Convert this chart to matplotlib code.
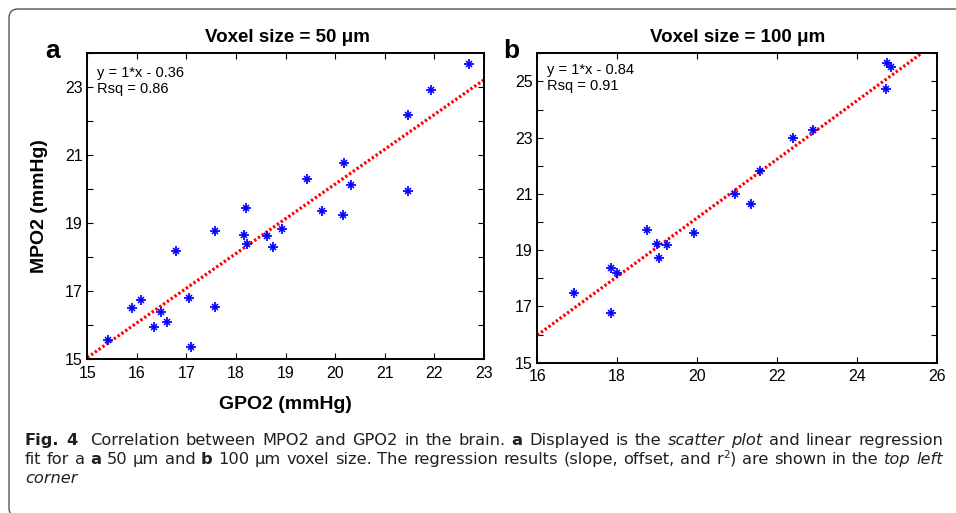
import matplotlib
matplotlib.use("Agg")
import matplotlib.pyplot as plt
from matplotlib.patches import FancyBboxPatch
from matplotlib.transforms import IdentityTransform

plt.rcParams['font.family'] = ['Liberation Sans', 'DejaVu Sans']

# ---------------- data ----------------
# panel a: 50 um voxel size
gpo2_a = [15.42, 15.91, 16.08, 16.34, 16.49, 16.61, 16.78, 17.06, 17.09, 17.58,
          17.58, 18.17, 18.21, 18.23, 18.62, 18.74, 18.93, 19.44, 19.73, 20.15,
          20.18, 20.31, 21.46, 21.47, 21.94, 22.70]
mpo2_a = [15.57, 16.50, 16.74, 15.96, 16.38, 16.09, 18.19, 16.81, 15.37, 18.78,
          16.53, 18.67, 19.46, 18.40, 18.63, 18.29, 18.84, 20.29, 19.36, 19.25,
          20.77, 20.14, 22.20, 19.95, 22.91, 23.69]
fit_x_a = [15.0, 23.0]
fit_y_a = [15.05, 23.22]
eq_a = ["y = 1*x - 0.36", "Rsq = 0.86"]

# panel b: 100 um voxel size
gpo2_b = [16.93, 17.84, 17.84, 18.00, 18.74, 18.99, 19.05, 19.25, 19.93, 20.96,
          21.35, 21.58, 22.39, 22.90, 24.74, 24.75, 24.86]
mpo2_b = [17.48, 16.77, 18.37, 18.20, 19.72, 19.21, 18.74, 19.20, 19.61, 20.98,
          20.65, 21.81, 22.98, 23.27, 24.73, 25.65, 25.51]
fit_x_b = [16.0, 25.62]
fit_y_b = [15.98, 26.0]
eq_b = ["y = 1*x - 0.84", "Rsq = 0.91"]

xticks_a = list(range(15, 24))
yticks_a = list(range(15, 25))
xticks_b = list(range(16, 27, 2))
yticks_b = list(range(15, 27))

titles = ["Voxel size = 50 \u03bcm", "Voxel size = 100 \u03bcm"]
panel_labels = ["a", "b"]
xlabel = "GPO2 (mmHg)"
ylabel = "MPO2 (mmHg)"

caption_runs = [
    [("Fig. 4", "b"), ("  Correlation between MPO2 and GPO2 in the brain. ", "r"), ("a", "b"),
     (" Displayed is the ", "r"), ("scatter plot", "i"), (" and linear regression", "r")],
    [("fit for a ", "r"), ("a", "b"), (" 50 \u00b5m and ", "r"), ("b", "b"),
     (" 100 \u00b5m voxel size. The regression results (slope, offset, and r", "r"), ("2", "s"),
     (") are shown in the ", "r"), ("top left", "i")],
    [("corner", "i")],
]

# ---------------- figure ----------------
W, H = 956, 513
fig = plt.figure(figsize=(W / 100, H / 100), dpi=100)


def fx(x):
    return x / W


def fy(y):
    return 1 - y / H


def add_ax(l, t, r, b):
    return fig.add_axes([l / W, 1 - b / H, (r - l) / W, (b - t) / H])


# frame
frame = FancyBboxPatch((9, -4), 975, H - 9 + 4, boxstyle="round,pad=0,rounding_size=9",
                       transform=IdentityTransform(), fill=False, edgecolor="#555555",
                       linewidth=1.0, figure=fig)
fig.patches.append(frame)


def style_axes(ax, xt, yt, xlim, ylim):
    ax.set_xlim(*xlim)
    ax.set_ylim(*ylim)
    ax.set_xticks(xt)
    ax.set_xticklabels([str(v) for v in xt])
    ax.set_yticks(yt)
    ax.set_yticklabels([str(v) if v % 2 == 1 else "" for v in yt])
    ax.tick_params(direction="in", top=True, right=True, length=4.5, width=0.8,
                   labelsize=11.5, colors="black")
    ax.tick_params(axis="x", pad=4.5)
    ax.tick_params(axis="y", pad=3.5)
    for s in ax.spines.values():
        s.set_linewidth(1.4)
        s.set_color("black")


def draw_panel(ax, gx, my, fxs, fys):
    ax.plot(fxs, fys, color="red", lw=2.3, ls=(0, (0.75, 0.7)), zorder=2)
    ax.plot(gx, my, ls="none", marker="+", ms=7.5, mew=1.25, color="#0000ff", zorder=3)
    ax.plot(gx, my, ls="none", marker="x", ms=5, mew=1.1, color="#0000ff", zorder=3)


ax_a = add_ax(87.3, 53.3, 484.0, 359.3)
draw_panel(ax_a, gpo2_a, mpo2_a, fit_x_a, fit_y_a)
style_axes(ax_a, xticks_a, yticks_a, (15, 23), (15, 24))

ax_b = add_ax(537.3, 53.3, 936.7, 362.7)
draw_panel(ax_b, gpo2_b, mpo2_b, fit_x_b, fit_y_b)
style_axes(ax_b, xticks_b, yticks_b, (16, 26), (15, 26))

# equations
for (x0, y1, y2), eq in zip([(97.3, 76.7, 93.3), (546.7, 74.3, 90.0)], [eq_a, eq_b]):
    fig.text(fx(x0), fy(y1), eq[0], fontsize=10.5, va="baseline", ha="left")
    fig.text(fx(x0), fy(y2), eq[1], fontsize=10.5, va="baseline", ha="left")

# titles
fig.text(fx(287), fy(42.3), titles[0], fontsize=13.5, fontweight="bold", ha="center", va="baseline")
fig.text(fx(738), fy(42.3), titles[1], fontsize=13.5, fontweight="bold", ha="center", va="baseline")

# panel labels
fig.text(fx(45), fy(58.5), panel_labels[0], fontsize=19, fontweight="bold", ha="left", va="baseline")
fig.text(fx(503), fy(57.5), panel_labels[1], fontsize=19, fontweight="bold", ha="left", va="baseline")

# axis labels
fig.text(fx(285.5), fy(409), xlabel, fontsize=14, fontweight="bold", ha="center", va="baseline")
fig.text(fx(40), fy(206), ylabel, fontsize=14, fontweight="bold", ha="center", va="center",
         rotation=90)

# ---------------- caption ----------------
cap_family = ["DejaVu Sans"]
renderer = fig.canvas.get_renderer()
cap_color = "#231f20"


def props(st, size):
    p = dict(family=cap_family, fontsize=size, color=cap_color)
    if st == "b":
        p["fontweight"] = "bold"
    elif st == "i":
        p["fontstyle"] = "italic"
    elif st == "s":
        p["fontsize"] = size * 0.65
    return p


def to_words(runs):
    words = []
    cur = []
    pending = 0
    for text, st in runs:
        parts = text.split(" ")
        for k, p in enumerate(parts):
            if k > 0:
                if cur:
                    words.append((pending, cur))
                    cur = []
                    pending = 0
                pending += 1
            if p:
                cur.append((p, st))
    if cur:
        words.append((pending, cur))
    return words


def text_w(s, st, size):
    t = fig.text(0, 0, s, **props(st, size))
    w = t.get_window_extent(renderer).width
    t.remove()
    return w


def space_w(size):
    return text_w("x x", "r", size) - text_w("xx", "r", size)


def natural_width(words, size):
    sw = space_w(size)
    tot = 0
    for i, (g, pieces) in enumerate(words):
        if i > 0:
            tot += g * sw
        for s, st in pieces:
            tot += text_w(s, st, size)
    return tot


def draw_line(words, x0, ybase, size, target=None):
    sw = space_w(size)
    gaps = sum(g for g, _ in words[1:])
    nat = natural_width(words, size)
    extra = 0.0
    if target is not None and gaps > 0:
        extra = (target - nat) / gaps
    x = x0
    for i, (g, pieces) in enumerate(words):
        if i > 0:
            x += g * (sw + extra)
        for s, st in pieces:
            yb = ybase
            if st == "s":
                yb = ybase - size * 100 / 72 * 0.38
            t = fig.text(fx(x), fy(yb), s, va="baseline", ha="left", **props(st, size))
            x += t.get_window_extent(renderer).width


x_start, x_end = 25, 943
target = x_end - x_start
words_all = [to_words(r) for r in caption_runs]
base = 10.0
nw = max(natural_width(words_all[0], base), natural_width(words_all[1], base))
cap_size = max(8.5, min(12.0, base * target * 0.985 / nw))

draw_line(words_all[0], x_start, 445, cap_size, target)
draw_line(words_all[1], x_start, 464, cap_size, target)
draw_line(words_all[2], x_start, 483, cap_size, None)

fig.savefig("out.png", dpi=100)
